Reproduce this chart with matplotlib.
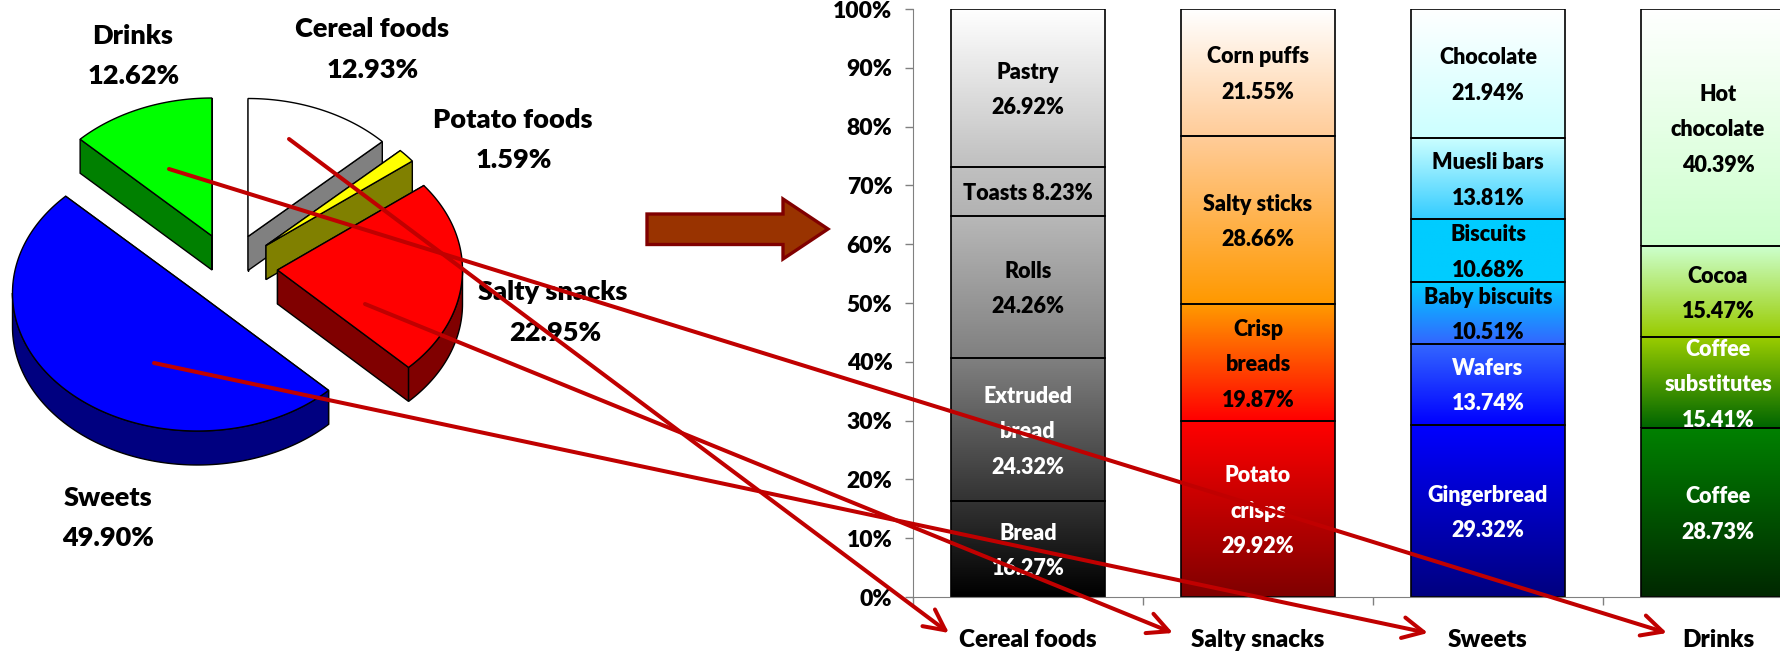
import numpy as np
import matplotlib
matplotlib.use('Agg')
import matplotlib.pyplot as plt
from matplotlib.colors import LinearSegmentedColormap
from matplotlib.patches import Polygon

plt.rcParams['font.family'] = ['Lato', 'DejaVu Sans']
plt.rcParams['font.weight'] = 'heavy'

W, H = 1780, 652

# pie: shares clockwise from 12 o'clock
pie_names = ['Cereal foods', 'Potato foods', 'Salty snacks', 'Sweets', 'Drinks']
pie_shares = [12.93, 1.59, 22.95, 49.90, 12.62]
pie_tops = ['#ffffff', '#ffff00', '#ff0000', '#0000ff', '#00ff00']
pie_sides = ['#808080', '#808000', '#800000', '#000080', '#008000']
pie_centres = [(248, 236.5), (266, 245.5), (277.5, 270), (197.5, 293), (212, 236)]
pie_name_pos = [(372, 29), (513, 120), (553, 292), (108, 498), (133, 36)]
pie_value_pos = [(373, 70), (514, 160), (555, 333), (108, 538), (134, 76)]
RX, RY, DEPTH = 185, 138, 34

# stacked bars, bottom to top
categories = ['Cereal foods', 'Salty snacks', 'Sweets', 'Drinks']
cereal_names = ['Bread', 'Extruded\nbread', 'Rolls', 'Toasts', 'Pastry']
cereal_values = [16.27, 24.32, 24.26, 8.23, 26.92]
cereal_bottom = ['#000000', '#333333', '#808080', '#b2b2b2', '#c0c0c0']
cereal_top = ['#333333', '#808080', '#b8b8b8', '#c0c0c0', '#ffffff']
cereal_text = ['white', 'white', 'black', 'black', 'black']

salty_names = ['Potato\ncrisps', 'Crisp\nbreads', 'Salty sticks', 'Corn puffs']
salty_values = [29.92, 19.87, 28.66, 21.55]
salty_bottom = ['#800000', '#ff0000', '#ff9900', '#ffcc99']
salty_top = ['#ff0000', '#ff9900', '#ffcc99', '#ffffff']
salty_text = ['white', 'black', 'black', 'black']

sweets_names = ['Gingerbread', 'Wafers', 'Baby biscuits', 'Biscuits', 'Muesli bars', 'Chocolate']
sweets_values = [29.32, 13.74, 10.51, 10.68, 13.81, 21.94]
sweets_bottom = ['#000080', '#0000ff', '#3366ff', '#00ccff', '#33ccff', '#ccffff']
sweets_top = ['#0000ff', '#3366ff', '#00ccff', '#00ccff', '#ccffff', '#ffffff']
sweets_text = ['white', 'white', 'black', 'black', 'black', 'black']

drinks_names = ['Coffee', 'Coffee\nsubstitutes', 'Cocoa', 'Hot\nchocolate']
drinks_values = [28.73, 15.41, 15.47, 40.39]
drinks_bottom = ['#002800', '#006600', '#99cc00', '#ccffcc']
drinks_top = ['#008000', '#99cc00', '#ccffcc', '#ffffff']
drinks_text = ['white', 'white', 'black', 'black']

# leader arrows: (start on the pie, tip at the category label)
arrows = [((289, 139), (949, 633)), ((365, 304), (1173, 633)),
          ((154, 363), (1428, 633)), ((169, 169), (1667, 633))]
big_arrow = [(647, 214), (783, 214), (783, 199), (828, 229), (783, 259), (783, 244.5), (647, 244.5)]


def rim(cx, cy, a1, a2, dy=0):
    t = np.radians(np.linspace(a1, a2, max(int(abs(a2 - a1)), 2)))
    return np.column_stack([cx + RX * np.sin(t), cy + dy - RY * np.cos(t)])


def draw_pie(ax):
    start = 0
    for share, top, side, (cx, cy) in zip(pie_shares, pie_tops, pie_sides, pie_centres):
        end = start + share * 3.6
        for a in (start, end):
            p = rim(cx, cy, a, a)[0]
            ax.add_patch(Polygon([(cx, cy), p, p + (0, DEPTH), (cx, cy + DEPTH)], fc=side, ec='black', lw=1))
        a1, a2 = max(start, 90), min(end, 270)
        if a2 > a1:
            ax.add_patch(Polygon(np.vstack([rim(cx, cy, a1, a2), rim(cx, cy, a2, a1, DEPTH)]),
                                 fc=side, ec='black', lw=1))
        ax.add_patch(Polygon(np.vstack([[(cx, cy)], rim(cx, cy, start, end)]), fc=top, ec='black', lw=1))
        start = end
    for name, share, np_, vp in zip(pie_names, pie_shares, pie_name_pos, pie_value_pos):
        ax.text(*np_, name, ha='center', va='center', fontsize=19.5)
        ax.text(*vp, f'{share:.2f}%', ha='center', va='center', fontsize=19.5)


def draw_column(ax, x, names, values, bottoms, tops, colors):
    base = 0
    for name, v, lo, hi, c in zip(names, values, bottoms, tops, colors):
        cmap = LinearSegmentedColormap.from_list('seg', [lo, hi])
        ax.imshow(np.linspace(1, 0, 64)[:, None], cmap=cmap, vmin=0, vmax=1, aspect='auto',
                  extent=(x - 0.333, x + 0.333, base, base + v), zorder=1)
        ax.bar(x, v, 0.666, bottom=base, facecolor='none', edgecolor='black', lw=1.2, zorder=2)
        sep = ' ' if name == 'Toasts' else '\n'
        ax.text(x, base + v / 2 - 0.35, f'{name}{sep}{v:.2f}%', color=c, ha='center', va='center',
                fontsize=15.5, linespacing=1.85, zorder=3)
        base += v


fig = plt.figure(figsize=(W / 100, H / 100), dpi=100, facecolor='white')

pie_ax = fig.add_axes([0, 0, 1, 1], zorder=1)
pie_ax.set_xlim(0, W)
pie_ax.set_ylim(H, 0)
pie_ax.axis('off')
draw_pie(pie_ax)

# the fourth column runs off the right edge of the picture
ax = fig.add_axes([913 / W, (H - 597) / H, 920 / W, 588 / H], zorder=2)
ax.patch.set_alpha(0)
draw_column(ax, 0.5, cereal_names, cereal_values, cereal_bottom, cereal_top, cereal_text)
draw_column(ax, 1.5, salty_names, salty_values, salty_bottom, salty_top, salty_text)
draw_column(ax, 2.5, sweets_names, sweets_values, sweets_bottom, sweets_top, sweets_text)
draw_column(ax, 3.5, drinks_names, drinks_values, drinks_bottom, drinks_top, drinks_text)
ax.set_xlim(0, 4)
ax.set_ylim(0, 100)
ax.set_yticks(range(0, 101, 10))
ax.set_yticklabels([f'{v}%' for v in range(0, 101, 10)], fontsize=16.5)
ax.set_xticks(range(5))
ax.set_xticklabels([])
ax.set_xticks([0.5, 1.5, 2.5, 3.5], categories, minor=True, fontsize=17.5)
ax.tick_params(axis='x', which='minor', length=0, pad=23)
ax.tick_params(axis='both', which='major', length=5.8, width=1, color='#808080', pad=9)
for s in ('top', 'right'):
    ax.spines[s].set_visible(False)
for s in ('left', 'bottom'):
    ax.spines[s].set_color('#808080')

over = fig.add_axes([0, 0, 1, 1], zorder=3)
over.set_xlim(0, W)
over.set_ylim(H, 0)
over.axis('off')
over.add_patch(Polygon(big_arrow, fc='#993300', ec='#800000', lw=2.4, joinstyle='miter'))
for a, b in arrows:
    over.annotate('', xy=b, xytext=a,
                  arrowprops=dict(arrowstyle='->,head_length=1.0,head_width=0.5', mutation_scale=15,
                                  color='#c00000', lw=2.9, shrinkA=0, shrinkB=0))

fig.savefig('out.png', dpi=100)
